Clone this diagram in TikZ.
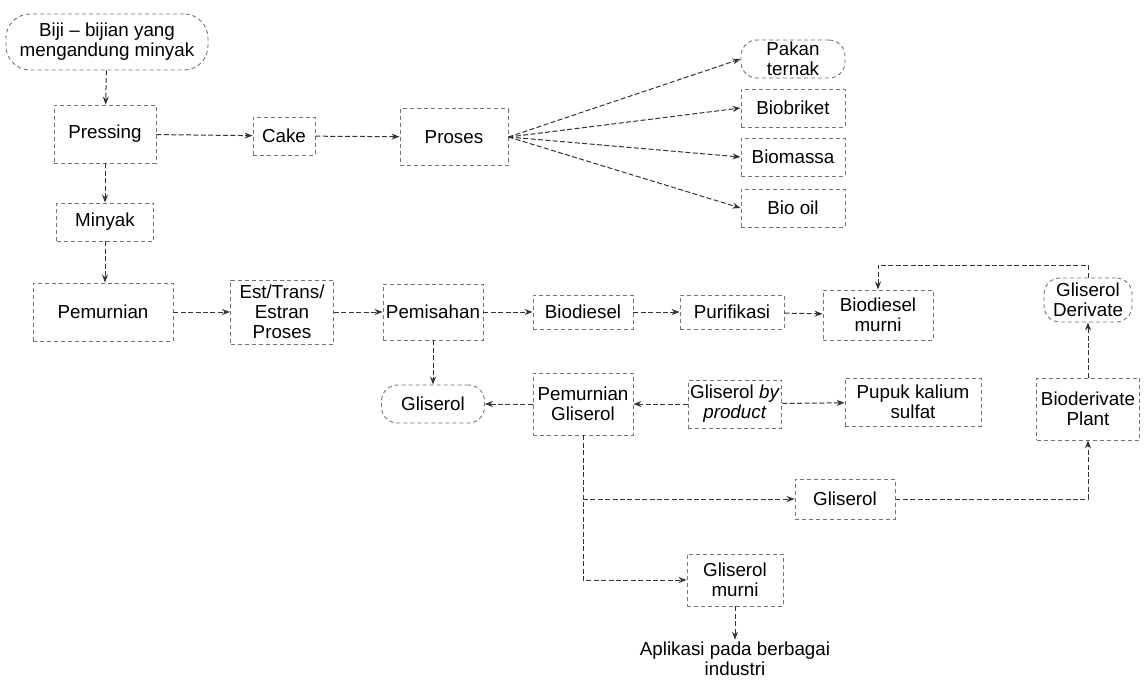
\documentclass[tikz,border=0pt]{standalone}
\usepackage{fontspec}
\setmainfont{Liberation Sans}
\usetikzlibrary{arrows.meta}

\begin{document}
\begin{tikzpicture}[
    x=0.5pt, y=-0.5pt,
    font=\fontsize{9.4}{10}\selectfont,
    >={Stealth[length=4pt,width=3pt]},
    box/.style={draw=black!55, dash pattern=on 2pt off 1.5pt, line width=0.45pt,
      align=center, inner sep=1pt},
    rbox/.style={box, rounded corners=8pt},
    freccia/.style={->, draw=black!80, dash pattern=on 2.5pt off 1.2pt, line width=0.5pt},
  ]

  \useasboundingbox (0,0) rectangle (1147,681);

  % ---- colonna di sinistra: dai semi all'olio ------------------------------
  \node[rbox, rounded corners=12pt, minimum width=101pt, minimum height=28pt]
    (biji) at (107,42) {Biji – bijian yang\\mengandung minyak};
  \node[box, minimum width=51pt, minimum height=29pt] (pressing) at (105,134) {Pressing};
  \node[box, minimum width=48.5pt, minimum height=19pt] (minyak) at (105,222) {Minyak};
  \node[box, minimum width=70pt, minimum height=29pt] (pemurnian) at (103,312) {Pemurnian};

  % ---- riga 1: il cake e i suoi prodotti -----------------------------------
  \node[box, minimum width=31pt, minimum height=19pt] (cake) at (284,136) {Cake};
  \node[box, minimum width=54pt, minimum height=28.5pt] (proses) at (454,137) {Proses};
  \foreach \n/\s/\t/\y in {pakan/rbox/{Pakan\\ternak}/59, biobriket/box/Biobriket/108,
                           biomassa/box/Biomassa/157, biooil/box/Bio oil/208}
    \node[\s, minimum width=52pt, minimum height=19pt] (\n) at (793,\y) {\t};

  % ---- riga 2: la linea del biodiesel --------------------------------------
  \node[box, minimum width=51.5pt, minimum height=32pt] (est) at (282,312) {Est/Trans/\\Estran\\Proses};
  \node[box, minimum width=50pt, minimum height=28pt] (pemisahan) at (433,312) {Pemisahan};
  \node[box, minimum width=50pt, minimum height=17pt] (biodiesel) at (583,312) {Biodiesel};
  \node[box, minimum width=52pt, minimum height=17pt] (purifikasi) at (732,312) {Purifikasi};
  \node[box, minimum width=55pt, minimum height=25pt] (bdmurni) at (878,315) {Biodiesel\\murni};
  \node[rbox, minimum width=44pt, minimum height=22pt] (glderivate) at (1088,300) {Gliserol\\Derivate};

  % ---- riga 3: la linea del gliserolo --------------------------------------
  \node[rbox, minimum width=51.5pt, minimum height=19pt] (gliserol) at (433,404) {Gliserol};
  \node[box, minimum width=50pt, minimum height=31pt] (pemgliserol) at (583,404) {Pemurnian\\Gliserol};
  \node[box, minimum width=45pt, minimum height=24pt] (glbyprod) at (735,404) {Gliserol \textit{by}\\\textit{product}};
  \node[box, minimum width=68pt, minimum height=24pt] (pupuk) at (913,402) {Pupuk kalium\\sulfat};
  \node[box, minimum width=51.5pt, minimum height=31pt] (bioderivate) at (1088,409) {Bioderivate\\Plant};

  % ---- in basso ------------------------------------------------------------
  \node[box, minimum width=50pt, minimum height=20pt] (glmid) at (845,499) {Gliserol};
  \node[box, minimum width=48pt, minimum height=26pt] (glmurni) at (735,580) {Gliserol\\murni};
  \node[align=center, inner sep=1pt] (aplikasi) at (735,659) {Aplikasi pada berbagai\\industri};

  \coordinate (sopra) at (0,265);

  % ---- frecce ---------------------------------------------------------------
  \draw[freccia] (biji) -- (pressing);
  \draw[freccia] (pressing) -- (cake);
  \draw[freccia] (cake) -- (proses);
  \foreach \n in {pakan,biobriket,biomassa,biooil}
    \draw[freccia] (proses.east) -- (\n.west);
  \draw[freccia] (pressing) -- (minyak);
  \draw[freccia] (minyak.south) -- (minyak.south |- pemurnian.north);
  \draw[freccia] (pemurnian) -- (est);
  \draw[freccia] (est) -- (pemisahan);
  \draw[freccia] (pemisahan) -- (biodiesel);
  \draw[freccia] (biodiesel) -- (purifikasi);
  \draw[freccia] (purifikasi) -- (bdmurni);
  \draw[freccia] (glderivate.north) |- (sopra -| bdmurni.north) -- (bdmurni.north);
  \draw[freccia] (pemisahan) -- (gliserol);
  \draw[freccia] (pemgliserol) -- (gliserol);
  \draw[freccia] (glbyprod) -- (pemgliserol);
  \draw[freccia] (glbyprod) -- (pupuk);
  \draw[freccia] (bioderivate) -- (glderivate);
  \draw[freccia] (pemgliserol.south) |- (glmurni.west);
  \draw[freccia] (pemgliserol.south |- glmid.west) -- (glmid.west);
  \draw[freccia] (glmid.east) -| (bioderivate.south);
  \draw[freccia] (glmurni) -- (aplikasi);

\end{tikzpicture}
\end{document}
